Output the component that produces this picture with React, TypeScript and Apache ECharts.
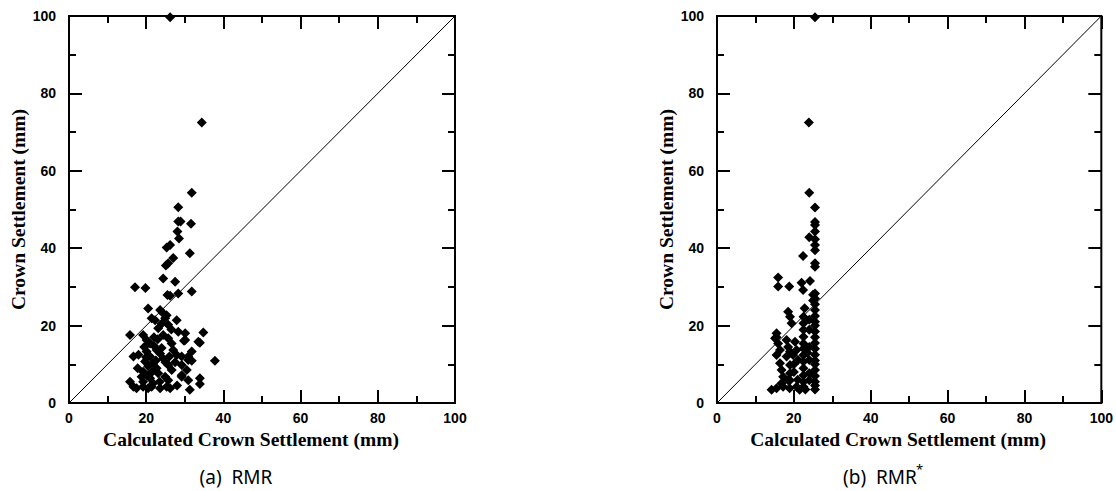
import React, { useEffect, useRef } from "react";
import * as echarts from "echarts";

// (a) RMR : calculated vs measured crown settlement (mm)
const rmrCalc = [
  26.2, 34.4, 31.8, 28.3, 28.3, 28.9, 31.6, 28.1, 28.5, 26.2, 25.3, 31.3, 27.0, 25.7, 25.1, 24.4,
  27.5, 17.1, 19.8, 25.5, 26.2, 28.3, 31.8, 20.5, 23.6, 24.4, 25.3, 21.4, 22.3, 24.9, 27.9, 23.1,
  25.7, 15.8, 19.2, 20.1, 21.0, 24.4, 25.7, 26.6, 28.3, 30.1, 33.9, 34.8, 16.7, 20.1, 21.0, 19.7,
  22.7, 23.6, 24.4, 27.0, 27.9, 31.8, 30.9, 29.2, 30.9, 31.8, 37.8, 21.8, 22.7, 23.1, 25.7, 26.6,
  29.2, 30.5, 19.2, 18.8, 19.2, 21.0, 21.8, 24.9, 25.7, 29.2, 30.9, 29.2, 33.9, 33.9, 15.8, 16.7,
  17.5, 19.2, 20.5, 21.4, 23.6, 25.3, 26.2, 31.3, 20.5, 21.5, 20.0, 22.0, 23.0, 24.0, 26.0, 25.0,
  27.5, 22.5, 19.5, 23.5, 20.2, 28.0, 24.0, 26.5, 22.0, 18.0, 17.8, 29.8, 33.5, 30.1,
];
const rmrMeas = [
  99.7, 72.5, 54.3, 50.6, 46.9, 46.9, 46.3, 44.3, 42.5, 40.8, 40.2, 38.7, 37.5, 36.1, 35.5, 32.2,
  31.3, 29.9, 29.7, 27.9, 27.7, 28.3, 28.8, 24.4, 24.0, 23.2, 22.7, 21.9, 21.4, 21.9, 21.4, 19.3,
  20.2, 17.6, 17.6, 16.3, 15.4, 17.6, 16.7, 15.4, 18.4, 16.3, 15.6, 18.2, 12.0, 13.3, 12.0, 10.7,
  13.7, 12.8, 11.5, 13.7, 12.4, 13.3, 11.1, 12.0, 12.0, 10.9, 10.9, 10.3, 9.0, 7.7, 9.8, 8.5,
  9.8, 8.5, 8.1, 6.8, 5.5, 6.4, 5.1, 6.8, 5.9, 7.2, 5.9, 6.8, 6.4, 4.9, 5.5, 4.2,
  3.8, 4.2, 3.8, 4.2, 3.8, 4.2, 3.8, 3.4, 9.5, 8.0, 11.8, 14.8, 16.5, 14.2, 12.0, 10.5,
  10.5, 11.0, 14.5, 5.5, 7.2, 4.5, 20.5, 19.0, 17.0, 12.5, 9.0, 16.1, 15.8, 18.0,
];

// (b) RMR* : calculated vs measured crown settlement (mm)
const rmrStarCalc = [
  25.5, 23.9, 24.0, 25.5, 25.5, 25.5, 25.5, 25.5, 25.5, 25.5, 25.5, 25.5, 24.0, 22.4, 15.9, 15.9,
  18.8, 22.0, 24.2, 22.4, 25.5, 25.5, 25.5, 25.5, 25.5, 25.5, 25.5, 25.5, 25.5, 25.5, 25.5, 25.5,
  25.5, 25.5, 25.5, 25.5, 25.5, 25.5, 25.5, 25.0, 25.0, 18.5, 19.0, 19.4, 15.5, 15.1, 15.9, 16.4,
  15.5, 18.1, 18.5, 19.0, 18.1, 20.3, 20.7, 19.8, 21.1, 22.5, 22.5, 22.5, 22.5, 22.5, 22.5, 22.5,
  22.5, 22.5, 22.5, 22.5, 22.5, 24.0, 24.0, 24.0, 24.0, 24.0, 24.0, 16.4, 16.8, 17.2, 16.8, 19.0,
  19.0, 19.0, 18.5, 14.2, 15.5, 17.2, 18.9, 20.7, 21.5, 15.5, 20.0, 21.0, 23.0, 23.5, 22.8, 20.0,
];
const rmrStarMeas = [
  99.7, 72.5, 54.3, 50.5, 46.8, 46.0, 44.3, 42.3, 40.8, 39.5, 36.1, 35.2, 42.8, 38.0, 32.4, 30.1,
  30.1, 31.1, 31.5, 29.2, 28.3, 27.0, 25.5, 24.0, 22.5, 21.0, 20.0, 18.5, 17.0, 15.5, 14.0, 12.5,
  11.0, 10.0, 8.5, 7.0, 5.5, 4.5, 3.5, 28.0, 26.5, 23.6, 22.3, 20.6, 18.0, 16.7, 15.4, 13.7,
  12.4, 16.3, 14.5, 13.3, 12.0, 15.8, 13.7, 12.4, 11.1, 22.3, 20.6, 18.9, 17.1, 15.4, 14.1, 12.4,
  10.7, 9.0, 7.2, 5.5, 4.2, 21.5, 18.9, 14.5, 11.1, 7.7, 5.9, 10.3, 8.5, 6.8, 5.1, 9.8,
  7.7, 5.9, 5.9, 3.4, 3.8, 4.2, 3.8, 4.2, 3.4, 17.0, 8.0, 6.0, 3.5, 13.0, 24.5, 10.0,
];

const axisMin = 0;
const axisMax = 100;
const majorStep = 20;
const minorStep = 10;
const diagonal = [
  [0, 0],
  [100, 100],
];
const xTitle = "Calculated Crown Settlement (mm)";
const yTitle = "Crown Settlement (mm)";

function zip(a: number[], b: number[]) {
  return a.map((v, i) => [v, b[i]]);
}

export default function App() {
  const ref = useRef<HTMLDivElement>(null);
  useEffect(() => {
    if (!ref.current) return;
    const chart = echarts.init(ref.current, null, { renderer: "svg" });
    const black = "#000";
    const mainAxis = (grid: number, isX: boolean) => ({
      gridIndex: grid,
      type: "value",
      min: axisMin,
      max: axisMax,
      interval: majorStep,
      position: isX ? "bottom" : "left",
      splitLine: { show: false },
      axisLine: { show: false, onZero: false },
      axisTick: { show: false },
      axisLabel: {
        color: black,
        fontFamily: "Liberation Sans, Arial, sans-serif",
        fontWeight: "bold",
        fontSize: 14,
        margin: isX ? 8 : 13,
      },
      name: isX ? xTitle : yTitle,
      nameLocation: "middle",
      nameGap: isX ? 19 : 39,
      nameTextStyle: {
        color: black,
        fontFamily: "Liberation Serif, Times New Roman, serif",
        fontWeight: "bold",
        fontSize: 19.5,
        padding: isX ? [0, 22, 0, 0] : [0, 0, 0, 0],
      },
    });
    // tick-only axes shifted inside the frame so that outward ticks end on the frame
    const tickAxis = (grid: number, position: string, step: number, len: number) => ({
      gridIndex: grid,
      type: "value",
      min: axisMin,
      max: axisMax,
      interval: step,
      position,
      offset: -len,
      splitLine: { show: false },
      axisLine: { show: false, onZero: false },
      axisTick: { show: true, inside: false, length: len, lineStyle: { color: black, width: 2 } },
      axisLabel: { show: false },
    });
    const xAxes: any[] = [];
    const yAxes: any[] = [];
    [0, 1].forEach((g) => {
      xAxes.push(mainAxis(g, true));
      yAxes.push(mainAxis(g, false));
      ["bottom", "top"].forEach((p) => {
        xAxes.push(tickAxis(g, p, majorStep, 13));
        xAxes.push(tickAxis(g, p, minorStep, 7));
      });
      ["left", "right"].forEach((p) => {
        yAxes.push(tickAxis(g, p, majorStep, 13));
        yAxes.push(tickAxis(g, p, minorStep, 7));
      });
    });
    const subStyle = {
      color: black,
      fontFamily: "'Noto Sans', 'Liberation Sans', sans-serif",
      fontWeight: "normal",
      fontSize: 19,
    };
    chart.setOption({
      animation: false,
      backgroundColor: "#fff",
      title: [
        { text: "(a)  RMR", left: 236, top: 477, textAlign: "center", textVerticalAlign: "middle", padding: 0, textStyle: subStyle },
        { text: "(b)  RMR", left: 880, top: 477, textAlign: "center", textVerticalAlign: "middle", padding: 0, textStyle: subStyle },
        { text: "*", left: 916, top: 469, textAlign: "left", textVerticalAlign: "middle", padding: 0, textStyle: { ...subStyle, fontSize: 13 } },
      ],
      grid: [
        { left: 69, top: 16, width: 386, height: 387, show: true, borderColor: black, borderWidth: 2 },
        { left: 717, top: 16, width: 385, height: 387, show: true, borderColor: black, borderWidth: 2 },
      ],
      xAxis: xAxes,
      yAxis: yAxes,
      series: [
        {
          type: "line",
          xAxisIndex: 0,
          yAxisIndex: 0,
          data: diagonal,
          showSymbol: false,
          lineStyle: { color: black, width: 1 },
        },
        {
          type: "scatter",
          xAxisIndex: 0,
          yAxisIndex: 0,
          data: zip(rmrCalc, rmrMeas),
          symbol: "diamond",
          symbolSize: 10,
          itemStyle: { color: black, opacity: 1 },
        },
        {
          type: "line",
          xAxisIndex: 5,
          yAxisIndex: 5,
          data: diagonal,
          showSymbol: false,
          lineStyle: { color: black, width: 1 },
        },
        {
          type: "scatter",
          xAxisIndex: 5,
          yAxisIndex: 5,
          data: zip(rmrStarCalc, rmrStarMeas),
          symbol: "diamond",
          symbolSize: 10,
          itemStyle: { color: black, opacity: 1 },
        },
      ],
    });
    return () => chart.dispose();
  }, []);
  return (
    <div
      ref={ref}
      style={{ position: "absolute", left: 0, top: 0, width: 1116, height: 491 }}
    />
  );
}
